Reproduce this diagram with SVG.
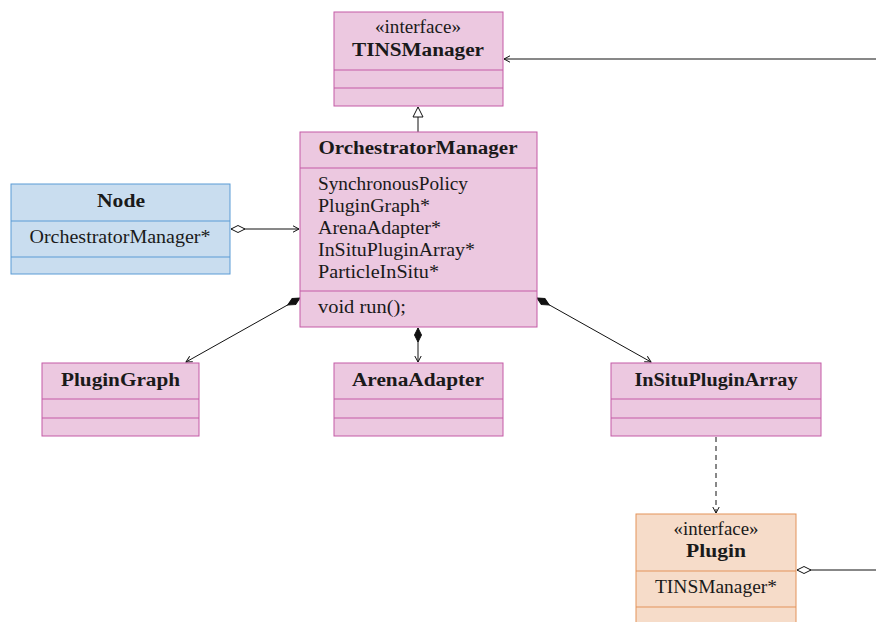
<svg xmlns="http://www.w3.org/2000/svg" width="876" height="622" viewBox="0 0 876 622">
<style>
.pink{fill:#ecc8e0;stroke:#c45aa6;stroke-width:1}
.pinkl{stroke:#c45aa6;stroke-width:1}
.blue{fill:#c9ddef;stroke:#5b9bd5;stroke-width:1}
.bluel{stroke:#5b9bd5;stroke-width:1}
.orange{fill:#f6dcc9;stroke:#e3935a;stroke-width:1}
.orangel{stroke:#e3935a;stroke-width:1}
text{font-family:"Liberation Serif","DejaVu Serif",serif;font-size:18px;fill:#1a1a1a}
.b{font-weight:bold}
.c{text-anchor:middle}
.conn{stroke:#111;stroke-width:1;fill:none}
</style>
<defs>
<marker id="arr" markerUnits="userSpaceOnUse" viewBox="-8 -5 10 10" refX="0" refY="0" markerWidth="10" markerHeight="10" orient="auto"><path d="M-6,-3.2 L0,0 L-6,3.2" fill="none" stroke="#111" stroke-width="1"/></marker>
<marker id="tri" markerUnits="userSpaceOnUse" viewBox="-12 -7 14 14" refX="0" refY="0" markerWidth="14" markerHeight="14" orient="auto"><path d="M0,0 L-10,-5 L-10,5 Z" fill="#fff" stroke="#111" stroke-width="1"/></marker>
<marker id="dfill" markerUnits="userSpaceOnUse" viewBox="-2 -6 18 12" refX="0" refY="0" markerWidth="18" markerHeight="12" orient="auto"><path d="M0,0 L7,-3.5 L14,0 L7,3.5 Z" fill="#111" stroke="#111" stroke-width="1"/></marker>
<marker id="dhol" markerUnits="userSpaceOnUse" viewBox="-2 -6 18 12" refX="0" refY="0" markerWidth="18" markerHeight="12" orient="auto"><path d="M0,0 L7,-3.5 L14,0 L7,3.5 Z" fill="#fff" stroke="#111" stroke-width="1"/></marker>
</defs>

<g id="connectors">
<path class="conn" d="M418,132 L418,107" marker-end="url(#tri)"/>
<path class="conn" d="M876,59 L504,59" marker-end="url(#arr)"/>
<path class="conn" d="M231,229 L299,229" marker-start="url(#dhol)" marker-end="url(#arr)"/>
<path class="conn" d="M300,298 L186,362" marker-start="url(#dfill)" marker-end="url(#arr)"/>
<path class="conn" d="M418,328 L418,362" marker-start="url(#dfill)" marker-end="url(#arr)"/>
<path class="conn" d="M537,298 L651,362" marker-start="url(#dfill)" marker-end="url(#arr)"/>
<path class="conn" d="M716,437 L716,513" stroke-dasharray="5,4" marker-end="url(#arr)"/>
<path class="conn" d="M797,570 L876,570" marker-start="url(#dhol)"/>
</g>

<g id="TINSManager">
<rect class="pink" x="334" y="12" width="169" height="94"/>
<line class="pinkl" x1="334" y1="70" x2="503" y2="70"/>
<line class="pinkl" x1="334" y1="88" x2="503" y2="88"/>
<text class="c" x="418" y="33" textLength="86" lengthAdjust="spacingAndGlyphs">«interface»</text>
<text class="c b" x="418" y="56" textLength="132" lengthAdjust="spacingAndGlyphs">TINSManager</text>
</g>

<g id="OrchestratorManager">
<rect class="pink" x="300" y="132" width="237" height="195"/>
<line class="pinkl" x1="300" y1="168" x2="537" y2="168"/>
<line class="pinkl" x1="300" y1="291" x2="537" y2="291"/>
<text class="c b" x="418" y="154" textLength="199" lengthAdjust="spacingAndGlyphs">OrchestratorManager</text>
<text x="318" y="190" textLength="150" lengthAdjust="spacingAndGlyphs">SynchronousPolicy</text>
<text x="318" y="212" textLength="112" lengthAdjust="spacingAndGlyphs">PluginGraph*</text>
<text x="318" y="234" textLength="123" lengthAdjust="spacingAndGlyphs">ArenaAdapter*</text>
<text x="318" y="256" textLength="157" lengthAdjust="spacingAndGlyphs">InSituPluginArray*</text>
<text x="318" y="278" textLength="121" lengthAdjust="spacingAndGlyphs">ParticleInSitu*</text>
<text x="318" y="313" textLength="88" lengthAdjust="spacingAndGlyphs">void run();</text>
</g>

<g id="Node">
<rect class="blue" x="11" y="184" width="219" height="90"/>
<line class="bluel" x1="11" y1="221" x2="230" y2="221"/>
<line class="bluel" x1="11" y1="257" x2="230" y2="257"/>
<text class="c b" x="121" y="207" textLength="48" lengthAdjust="spacingAndGlyphs">Node</text>
<text class="c" x="120" y="243" textLength="181" lengthAdjust="spacingAndGlyphs">OrchestratorManager*</text>
</g>

<g id="PluginGraph">
<rect class="pink" x="42" y="363" width="157" height="73"/>
<line class="pinkl" x1="42" y1="399" x2="199" y2="399"/>
<line class="pinkl" x1="42" y1="418" x2="199" y2="418"/>
<text class="c b" x="120.5" y="386" textLength="119" lengthAdjust="spacingAndGlyphs">PluginGraph</text>
</g>

<g id="ArenaAdapter">
<rect class="pink" x="334" y="363" width="169" height="73"/>
<line class="pinkl" x1="334" y1="399" x2="503" y2="399"/>
<line class="pinkl" x1="334" y1="418" x2="503" y2="418"/>
<text class="c b" x="418" y="386" textLength="132" lengthAdjust="spacingAndGlyphs">ArenaAdapter</text>
</g>

<g id="InSituPluginArray">
<rect class="pink" x="611" y="363" width="210" height="73"/>
<line class="pinkl" x1="611" y1="399" x2="821" y2="399"/>
<line class="pinkl" x1="611" y1="418" x2="821" y2="418"/>
<text class="c b" x="716" y="386" textLength="163" lengthAdjust="spacingAndGlyphs">InSituPluginArray</text>
</g>

<g id="Plugin">
<rect class="orange" x="636" y="514" width="160" height="112"/>
<line class="orangel" x1="636" y1="571" x2="796" y2="571"/>
<line class="orangel" x1="636" y1="607" x2="796" y2="607"/>
<text class="c" x="716" y="535" textLength="85" lengthAdjust="spacingAndGlyphs">«interface»</text>
<text class="c b" x="716" y="557" textLength="60" lengthAdjust="spacingAndGlyphs">Plugin</text>
<text class="c" x="716" y="593" textLength="122" lengthAdjust="spacingAndGlyphs">TINSManager*</text>
</g>
</svg>
